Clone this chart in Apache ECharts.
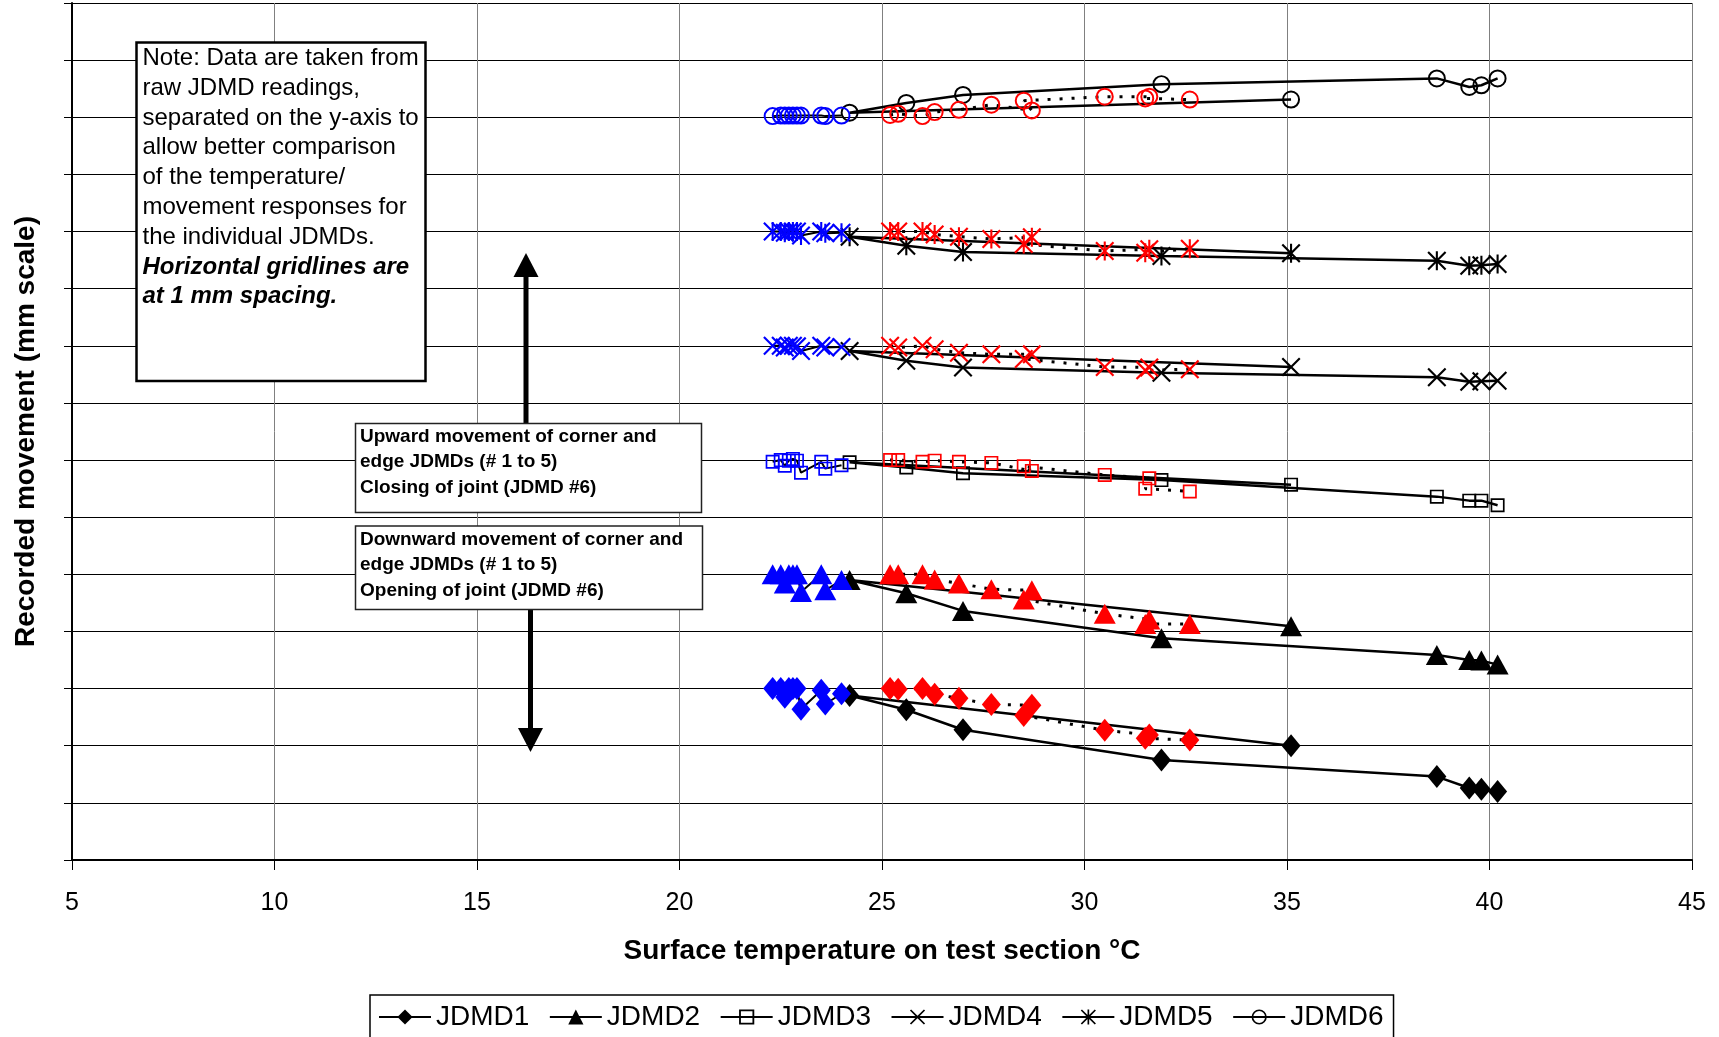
<!DOCTYPE html>
<html><head><meta charset="utf-8">
<script src="https://cdn.jsdelivr.net/npm/echarts@6/dist/echarts.min.js"></script>
<style>html,body{margin:0;padding:0;background:#fff;}#c{width:1719px;height:1037px;}</style>
</head><body><div id="c"></div>
<script>
// Temperatures (°C) shared by all JDMDs
const blackTemps = [35.1, 24.2, 25.6, 27.0, 31.9, 38.7, 39.5, 39.8, 40.2];
const redTemps   = [25.2, 25.4, 26.0, 26.3, 26.9, 27.7, 28.7, 28.5, 30.5, 31.6, 31.5, 32.6];
const blueTemps  = [22.3, 22.5, 22.6, 22.7, 22.8, 22.9, 23.0, 23.5, 23.6, 24.0];

const jdmdNames = ['JDMD1', 'JDMD2', 'JDMD3', 'JDMD4', 'JDMD5', 'JDMD6'];
// vertical separation of each JDMD on the y-axis (mm)
const jdmdOffsets = [3, 5, 7, 9, 11, 13];

// movement relative to each JDMD's baseline (mm)
const jdmd1Black = [-1.00, -0.12, -0.37, -0.72, -1.25, -1.54, -1.74, -1.76, -1.80];
const jdmd2Black = [-0.91, -0.10, -0.33, -0.64, -1.12, -1.41, -1.50, -1.51, -1.58];
const jdmd3Black = [-0.43, -0.04, -0.13, -0.23, -0.35, -0.64, -0.71, -0.71, -0.79];
const jdmd4Black = [-0.37, -0.09, -0.26, -0.38, -0.47, -0.55, -0.63, -0.62, -0.61];
const jdmd5Black = [-0.38, -0.09, -0.25, -0.36, -0.43, -0.51, -0.60, -0.59, -0.57];
const jdmd6Black = [0.31, 0.08, 0.25, 0.39, 0.58, 0.68, 0.53, 0.56, 0.68];

const jdmd1Red = [0, -0.01, 0, -0.10, -0.17, -0.28, -0.29, -0.47, -0.73, -0.81, -0.87, -0.90];
const jdmd2Red = [0, 0, 0, -0.09, -0.16, -0.26, -0.28, -0.44, -0.69, -0.79, -0.87, -0.87];
const jdmd3Red = [0, 0, -0.03, -0.01, -0.03, -0.05, -0.19, -0.11, -0.26, -0.32, -0.50, -0.55];
const jdmd4Red = [0, -0.03, 0, -0.06, -0.12, -0.15, -0.15, -0.23, -0.37, -0.38, -0.43, -0.41];
const jdmd5Red = [0, 0, 0, -0.05, -0.09, -0.13, -0.10, -0.22, -0.34, -0.31, -0.37, -0.30];
const jdmd6Red = [0.04, 0.06, 0.02, 0.09, 0.13, 0.22, 0.12, 0.29, 0.36, 0.36, 0.33, 0.31];

const jdmd1Blue = [0, 0, -0.15, 0, 0, 0, -0.36, -0.03, -0.27, -0.09];
const jdmd2Blue = [0, 0, -0.16, 0, 0, 0, -0.31, 0, -0.28, -0.10];
const jdmd3Blue = [-0.03, 0, -0.10, -0.01, 0.02, -0.01, -0.22, -0.03, -0.15, -0.09];
const jdmd4Blue = [0, 0, -0.03, 0, 0, -0.01, -0.09, 0, -0.03, -0.02];
const jdmd5Blue = [0, 0, -0.02, 0, 0, 0, -0.07, 0, -0.03, -0.02];
const jdmd6Blue = [0.02, 0.03, 0.03, 0.03, 0.03, 0.03, 0.03, 0.03, 0.02, 0.03];

const blackVals = [jdmd1Black, jdmd2Black, jdmd3Black, jdmd4Black, jdmd5Black, jdmd6Black];
const redVals = [jdmd1Red, jdmd2Red, jdmd3Red, jdmd4Red, jdmd5Red, jdmd6Red];
const blueVals = [jdmd1Blue, jdmd2Blue, jdmd3Blue, jdmd4Blue, jdmd5Blue, jdmd6Blue];

const xTicks = [5, 10, 15, 20, 25, 30, 35, 40, 45];

// marker shapes
const X_PATH = 'path://M0,0.8 L0.8,0 L5,4.2 L9.2,0 L10,0.8 L5.8,5 L10,9.2 L9.2,10 L5,5.8 L0.8,10 L0,9.2 L4.2,5 Z';
const STAR_PATH = 'path://M0,0.8 L0.8,0 L5,4.2 L9.2,0 L10,0.8 L5.8,5 L10,9.2 L9.2,10 L5,5.8 L0.8,10 L0,9.2 L4.2,5 Z M4.45,0 L5.55,0 L5.55,10 L4.45,10 Z';
const SQ_PATH = 'path://M0,0 L10,0 L10,10 L0,10 Z M1.2,1.2 L1.2,8.8 L8.8,8.8 L8.8,1.2 Z';
const RING_PATH = 'path://M5,0 A5,5 0 1,1 5,10 A5,5 0 1,1 5,0 Z M5,1.1 A3.9,3.9 0 1,0 5,8.9 A3.9,3.9 0 1,0 5,1.1 Z';
const symbols = ['diamond', 'triangle', SQ_PATH, X_PATH, STAR_PATH, RING_PATH];
const symbolSizes = [[19, 23], [22, 20], 14, 19, 19, 18];

const FONT = '"Liberation Sans", Arial, sans-serif';

const series = [];
jdmdNames.forEach((nm, i) => {
  series.push({
    name: nm, type: 'line', z: 3,
    data: blackTemps.map((t, j) => [t, jdmdOffsets[i] + blackVals[i][j]]),
    symbol: symbols[i], symbolSize: symbolSizes[i],
    itemStyle: { color: '#000' },
    lineStyle: { color: '#000', width: 2.5 }
  });
});
jdmdNames.forEach((nm, i) => {
  series.push({
    name: nm + ' (red)', type: 'line', z: 4,
    data: redTemps.map((t, j) => [t, jdmdOffsets[i] + redVals[i][j]]),
    symbol: symbols[i], symbolSize: symbolSizes[i],
    itemStyle: { color: '#ff0000' },
    lineStyle: { color: '#000', width: 3, type: [3, 9] }
  });
});
jdmdNames.forEach((nm, i) => {
  series.push({
    name: nm + ' (blue)', type: 'line', z: 5,
    data: blueTemps.map((t, j) => [t, jdmdOffsets[i] + blueVals[i][j]]),
    symbol: symbols[i], symbolSize: symbolSizes[i],
    itemStyle: { color: '#0000ff' },
    lineStyle: { color: '#000', width: 2 }
  });
});

const noteLines = ['Note: Data are taken from', 'raw JDMD readings,', 'separated on the y-axis to',
  'allow better comparison', 'of the temperature/', 'movement responses for', 'the individual JDMDs.'];
const noteBold = ['Horizontal gridlines are', 'at 1 mm spacing.'];
const upText = ['Upward movement of corner and', 'edge JDMDs (# 1 to 5)', 'Closing of joint (JDMD #6)'];
const downText = ['Downward movement of corner and', 'edge JDMDs (# 1 to 5)', 'Opening of joint (JDMD #6)'];

const chart = echarts.init(document.getElementById('c'), null, { renderer: 'canvas' });
chart.setOption({
  animation: false,
  backgroundColor: '#fff',
  grid: { left: 72, right: 27, top: 3, bottom: 177, containLabel: false },
  xAxis: {
    type: 'value', min: xTicks[0], max: xTicks[xTicks.length - 1], interval: 5,
    name: 'Surface temperature on test section °C', nameLocation: 'middle', nameGap: 77,
    nameTextStyle: { fontFamily: FONT, fontSize: 28, fontWeight: 'bold', color: '#000' },
    axisLine: { lineStyle: { color: '#000', width: 2 } },
    axisTick: { show: true, length: 10, lineStyle: { color: '#000' } },
    axisLabel: { fontFamily: FONT, fontSize: 25, color: '#000', margin: 31 },
    splitLine: { show: true, lineStyle: { color: '#808080', width: 1 } }
  },
  yAxis: {
    type: 'value', min: 0, max: 15, interval: 1,
    name: 'Recorded movement (mm scale)', nameLocation: 'middle', nameGap: 32,
    nameTextStyle: { fontFamily: FONT, fontSize: 28, fontWeight: 'bold', color: '#000' },
    axisLine: { show: true, lineStyle: { color: '#000', width: 2 } },
    axisTick: { show: true, length: 8, lineStyle: { color: '#000' } },
    axisLabel: { show: false },
    splitLine: { show: true, lineStyle: { color: '#000', width: 1 } }
  },
  legend: {
    data: jdmdNames, left: 370, bottom: -2, orient: 'horizontal',
    itemWidth: 52, itemHeight: 19, itemGap: 19.5,
    padding: [8, 10, 8, 8],
    borderColor: '#000', borderWidth: 1.5, backgroundColor: '#fff',
    textStyle: { fontFamily: FONT, fontSize: 28, color: '#000' }
  },
  series: series,
  graphic: [
    { type: 'rect', shape: { x: 136.5, y: 42.5, width: 289, height: 338.5 }, style: { fill: '#fff', stroke: '#000', lineWidth: 2.5 }, z: 100 },
    { type: 'text', x: 142.5, y: 43.5, z: 101, style: { text: noteLines.join('\n'), font: '24px ' + FONT, lineHeight: 29.8, fill: '#000', verticalAlign: 'top' } },
    { type: 'text', x: 142.5, y: 43.5 + 7 * 29.8, z: 101, style: { text: noteBold.join('\n'), font: 'italic bold 24px ' + FONT, lineHeight: 29.8, fill: '#000', verticalAlign: 'top' } },

    { type: 'line', shape: { x1: 526, y1: 423, x2: 526, y2: 272 }, style: { stroke: '#000', lineWidth: 5 }, z: 100 },
    { type: 'polygon', shape: { points: [[526, 253], [513.5, 277], [538.5, 277]] }, style: { fill: '#000' }, z: 100 },
    { type: 'line', shape: { x1: 530.5, y1: 609, x2: 530.5, y2: 732 }, style: { stroke: '#000', lineWidth: 5 }, z: 100 },
    { type: 'polygon', shape: { points: [[530.5, 752], [518, 728], [543, 728]] }, style: { fill: '#000' }, z: 100 },

    { type: 'rect', shape: { x: 355.5, y: 423.5, width: 346, height: 89 }, style: { fill: '#fff', stroke: '#222', lineWidth: 1.5 }, z: 101 },
    { type: 'text', x: 360, y: 423.5, z: 102, style: { text: upText.join('\n'), font: 'bold 19px ' + FONT, lineHeight: 25.7, fill: '#000', verticalAlign: 'top' } },
    { type: 'rect', shape: { x: 355.5, y: 526, width: 347, height: 83.5 }, style: { fill: '#fff', stroke: '#222', lineWidth: 1.5 }, z: 101 },
    { type: 'text', x: 360, y: 526.5, z: 102, style: { text: downText.join('\n'), font: 'bold 19px ' + FONT, lineHeight: 25.7, fill: '#000', verticalAlign: 'top' } }
  ]
});
</script></body></html>
